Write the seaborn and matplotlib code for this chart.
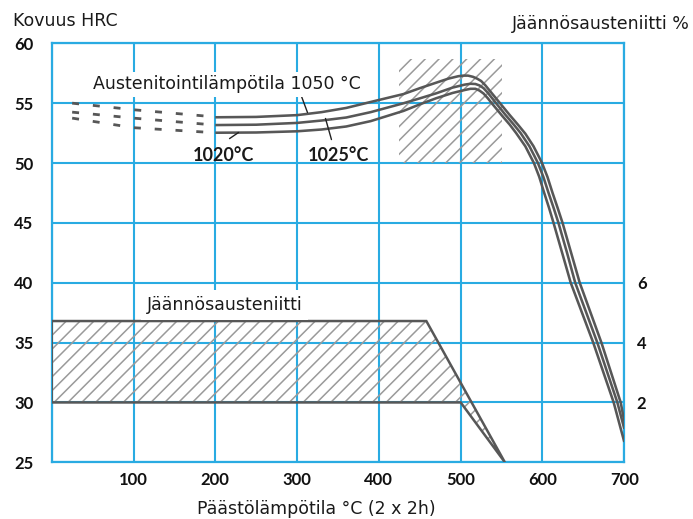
import matplotlib
matplotlib.use("Agg")
import matplotlib.pyplot as plt
import seaborn as sns

# ---------------- data ----------------
temp_dash = [25, 100, 200]
hrc_1050_dash = [55.0, 54.45, 53.85]
hrc_1025_dash = [54.25, 53.75, 53.17]
hrc_1020_dash = [53.75, 52.95, 52.53]

temp_1050 = [200, 250, 300, 330, 360, 390, 430, 450, 470, 485, 497, 503, 509, 515, 520, 525, 530, 536, 548, 560, 570,
             579, 589, 595, 599.4, 606, 612.3, 618.5, 624.5, 635, 645.5, 672, 695.6, 700]
hrc_1050 = [53.82, 53.85, 54.0, 54.25, 54.6, 55.1, 55.76, 56.25, 56.71, 57.05, 57.25, 57.3, 57.3, 57.2, 57.05, 56.85, 56.5, 56.0, 55.0, 54.0, 53.2,
            52.45, 51.4, 50.6, 50.0, 48.85, 47.5, 46.25, 45.0, 42.5, 40.0, 35.0, 30.0, 28.4]

temp_1025 = [200, 250, 300, 330, 360, 390, 430, 450, 470, 490, 505, 512, 518, 523, 528, 533, 538, 543.2, 555, 565, 573.3,
             584, 590, 594.4, 601, 607.4, 613.6, 619.5, 630, 640, 667, 691.5, 700]
hrc_1025 = [53.17, 53.2, 53.35, 53.55, 53.8, 54.25, 54.99, 55.4, 55.82, 56.3, 56.55, 56.62, 56.6, 56.48, 56.25, 55.88, 55.45, 55.0, 54.0, 53.2, 52.5,
            51.4, 50.6, 50.0, 48.85, 47.5, 46.25, 45.0, 42.5, 40.0, 35.0, 30.0, 27.8]

temp_1020 = [200, 250, 300, 330, 360, 390, 430, 450, 470, 490, 505, 512, 518, 523, 528, 533, 537.9, 550, 560, 567.8,
             579, 585, 589.5, 596, 602.1, 608, 613.5, 624, 634.5, 662, 687, 700]
hrc_1020 = [52.53, 52.55, 52.65, 52.8, 53.05, 53.5, 54.35, 54.9, 55.41, 55.85, 56.1, 56.2, 56.2, 56.05, 55.8, 55.42, 55.0, 54.0, 53.2, 52.5,
            51.4, 50.6, 50.0, 48.85, 47.5, 46.25, 45.0, 42.5, 40.0, 35.0, 30.0, 26.7]

# retained austenite band (right axis, %)
ra_temp = [0, 0, 458, 554, 500]
ra_pct = [2.0, 4.72, 4.72, 0.0, 2.0]

# hatched optimum zone (left axis, HRC)
zone_temp = [425, 550]
zone_hrc = [50.0, 58.7]

x_ticks = [100, 200, 300, 400, 500, 600, 700]
y_ticks = [25, 30, 35, 40, 45, 50, 55, 60]
y2_ticks = [2, 4, 6]

# ---------------- style ----------------
DPI = 83
S = 100 / DPI  # keep pixel sizes as designed for 100 dpi

sns.set_theme(style="white")
plt.rcParams["font.family"] = ["Lato", "DejaVu Sans"]
plt.rcParams["hatch.linewidth"] = 1.1 * S

GRID = "#29abe2"
CURVE = "#575757"
HATCH = "#9a9a9a"
TXT = "#1a1a1a"
REG = ["DejaVu Sans"]

W, H = 693, 519
fig = plt.figure(figsize=(W / DPI, H / DPI), dpi=DPI)
ax = fig.add_axes([51.7 / W, 1 - 462.3 / H, (624.3 - 51.7) / W, (462.3 - 43.3) / H])
ax.set_xlim(0, 700)
ax.set_ylim(25, 60)
ax.set_facecolor("none")

ax.set_yticks(y_ticks)
ax.set_xticks([0] + x_ticks, labels=[""] + [str(v) for v in x_ticks])
ax.grid(True, color=GRID, lw=1.5 * S)
ax.set_axisbelow(True)
for s in ax.spines.values():
    s.set_color(GRID)
    s.set_linewidth(1.6 * S)
ax.tick_params(axis="both", length=0, labelsize=12 * S, colors="#111111")
ax.tick_params(axis="y", pad=13 * S)
ax.tick_params(axis="x", pad=7 * S)
for lab in ax.get_xticklabels() + ax.get_yticklabels():
    lab.set_fontweight("bold")

# optimum zone hatch
ax.fill([zone_temp[0], zone_temp[1], zone_temp[1], zone_temp[0]],
        [zone_hrc[0], zone_hrc[0], zone_hrc[1], zone_hrc[1]],
        facecolor="none", edgecolor=HATCH, hatch="//", lw=0, zorder=1.5)

# curves
LW = 1.85 * S
LWD = 2.0 * S
dash_style = (0, (2.5, 5.0))
for tdash, hdash, t, h in [
    (temp_dash, hrc_1050_dash, temp_1050, hrc_1050),
    (temp_dash, hrc_1025_dash, temp_1025, hrc_1025),
    (temp_dash, hrc_1020_dash, temp_1020, hrc_1020),
]:
    sns.lineplot(x=tdash, y=hdash, ax=ax, color=CURVE, lw=LWD, linestyle=dash_style,
                 estimator=None, sort=False, zorder=3, dash_capstyle="butt")
    sns.lineplot(x=t, y=h, ax=ax, color=CURVE, lw=LW, estimator=None, sort=False,
                 zorder=3, solid_capstyle="butt", solid_joinstyle="round")

ax.set_xlabel("")
ax.set_ylabel("")

# labels with leaders
ax.text(213.7, 56.16, "Austenitointilämpötila 1050 °C", ha="center", va="baseline",
        fontsize=12.5 * S, family=REG, color=TXT, zorder=4,
        bbox=dict(boxstyle="square,pad=0.2", fc="white", ec="none"))
ax.text(210.6, 50.21, "1020°C", ha="center", va="baseline", fontsize=13 * S,
        fontweight="bold", color=TXT, zorder=4)
ax.text(351.2, 50.21, "1025°C", ha="center", va="baseline", fontsize=13 * S,
        fontweight="bold", color=TXT, zorder=4)
lead = dict(arrowstyle="-", color="#222222", lw=1.0 * S, shrinkA=0, shrinkB=0)
ax.annotate("", xy=(312.7, 54.22), xytext=(305.4, 55.56), arrowprops=lead)
ax.annotate("", xy=(334.7, 53.72), xytext=(342.0, 51.96), arrowprops=lead)
ax.annotate("", xy=(228.4, 52.55), xytext=(217.4, 52.04), arrowprops=lead)

# right axis: retained austenite %
ax2 = ax.twinx()
ax2.set_ylim(0, 14)
ax2.set_yticks(y2_ticks)
ax2.tick_params(axis="y", length=0, labelsize=12 * S, pad=9 * S, colors="#111111")
for lab in ax2.get_yticklabels():
    lab.set_fontweight("bold")
for s in ax2.spines.values():
    s.set_visible(False)
ax2.grid(False)
ax2.fill(ra_temp, ra_pct, facecolor="none", edgecolor=HATCH, hatch="//", lw=0, zorder=2)
ax2.fill(ra_temp, ra_pct, facecolor="none", edgecolor=CURVE, lw=1.8 * S, zorder=3)
ax2.text(211.2, (37.72 - 25) / 2.5, "Jäännösausteniitti", ha="center", va="baseline",
         fontsize=12.5 * S, family=REG, color=TXT, zorder=4,
         bbox=dict(boxstyle="square,pad=0.35", fc="white", ec="none"))

# axis titles
fig.text(13.3 / W, 1 - 26 / H, "Kovuus HRC", ha="left", va="baseline", fontsize=12.5 * S, family=REG, color=TXT)
fig.text(690 / W, 1 - 29.3 / H, "Jäännösausteniitti %", ha="right", va="baseline", fontsize=12.5 * S, family=REG, color=TXT)
fig.text(316.5 / W, 1 - 514.3 / H, "Päästölämpötila °C (2 x 2h)", ha="center", va="baseline", fontsize=12.5 * S, family=REG, color=TXT)

fig.savefig("out.png", dpi=DPI)
